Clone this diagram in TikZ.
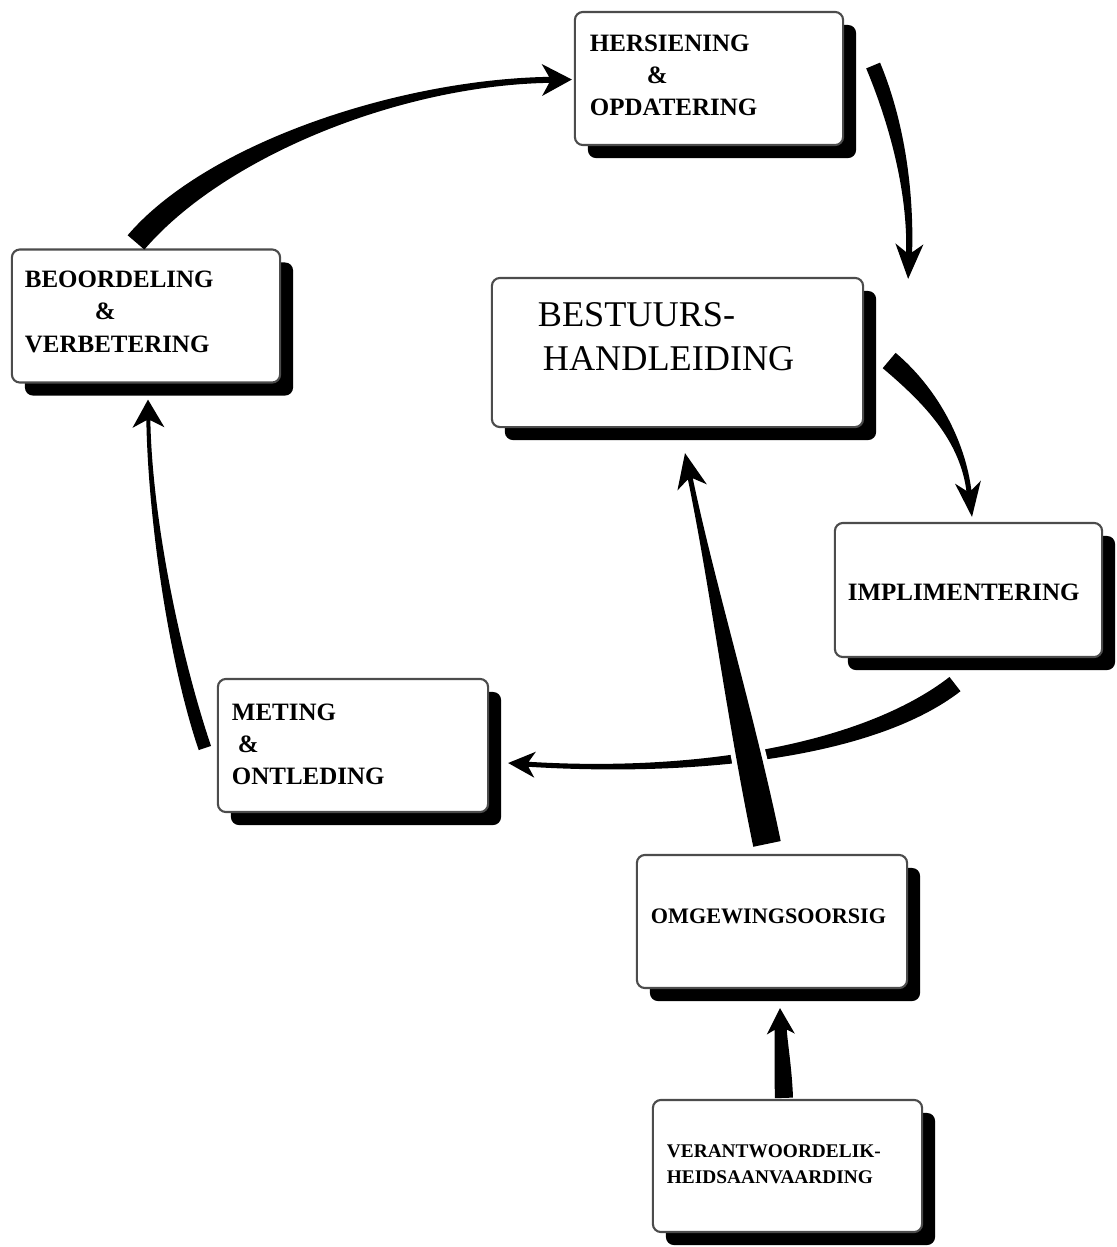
\documentclass[tikz,border=0pt]{standalone}
\usepackage{fontspec}
\setmainfont{Liberation Serif}
\usetikzlibrary{calc, shadows}
\tikzstyle{box}=[rectangle, rounded corners=0.08cm, draw=black!70, line width=0.6pt, fill=white, drop shadow={shadow xshift=0.13cm, shadow yshift=-0.13cm, fill=black, opacity=1}, align=left, inner sep=0, text height=0.2cm, minimum width=2.68cm, minimum height=1.33cm]
\tikzstyle{lbl}=[font=\fontsize{7.1}{9.1}\selectfont\bfseries]
\tikzstyle{halo}=[preaction={draw=white, line width=0.1cm}]
% tapered arrow: [style] start, control 1, control 2, tip, half width at start, half width at end, head length, head half width
\newcommand{\taperarrow}[9][]{%
  \coordinate (tb) at ($(#5)!#8!(#4)$);
  \coordinate (tn) at ($(tb)!0.3!(#5)$);
  \fill[#1] ($(#2)!#6!90:(#3)$) .. controls ($(#3)!#6!-90:(#2)$) and ($(#4)!#7!90:(tn)$) .. ($(tn)!#7!-90:(#4)$)
     -- ($(tn)!#7!90:(#4)$) .. controls ($(#4)!#7!-90:(tn)$) and ($(#3)!#6!90:(#2)$) .. ($(#2)!#6!-90:(#3)$) -- cycle
     (#5) -- ($(tb)!#9!-90:(#5)$) -- (tn) -- ($(tb)!#9!90:(#5)$) -- cycle;
}

\begin{document}
\begin{tikzpicture}[x=0.01cm, y=-0.01cm]
\useasboundingbox (0,0) rectangle (1117,1247);

\node[box, lbl, text width=2.38cm, text depth=0.73cm] (hers) at (709,78.5) {HERSIENING\\\hspace*{0.57cm}\&\\OPDATERING};
\node[box, lbl, text width=2.42cm, text depth=0.76cm] (beo) at (146,316) {BEOORDELING\\\hspace*{0.7cm}\&\\VERBETERING};
\node[box, font=\fontsize{10.3}{12.4}\selectfont, minimum width=3.71cm, minimum height=1.49cm, text width=2.79cm, text height=0.28cm, text depth=0.79cm] (best) at (677.5,352.5) {BESTUURS-\\\hspace*{0.05cm}HANDLEIDING};
\node[box, lbl, minimum width=2.67cm, minimum height=1.34cm, text width=2.41cm, text depth=0cm] (impl) at (968.5,590) {IMPLIMENTERING};
\node[box, lbl, minimum width=2.70cm, text width=2.42cm, text depth=0.71cm] (met) at (353,745.5) {METING\\\hspace*{0.06cm}\&\\ONTLEDING};
\node[box, font=\fontsize{6.3}{8}\selectfont\bfseries, minimum width=2.70cm, text width=2.42cm, text depth=0.17cm] (omg) at (772,921.5) {OMGEWINGSOORSIG};
\node[box, font=\fontsize{5.5}{7.4}\selectfont\bfseries, minimum width=2.69cm, minimum height=1.32cm, text width=2.41cm, text height=0.16cm, text depth=0.34cm] (ver) at (787.5,1166) {VERANTWOORDELIK-\\HEIDSAANVAARDING};

% ends of the arrows
\coordinate (a1s) at ($(beo.north)+(-10,-6)$);
\coordinate (a1t) at ($(hers.west)+(-2,1)$);
\coordinate (a2s) at ($(hers.east)+(29,-13)$);
\coordinate (a2t) at ($(best.north east)+(44,2)$);
\coordinate (a3s) at ($(best.east)+(25,8)$);
\coordinate (a3t) at ($(impl.north)+(3.5,-5)$);
\coordinate (a4s) at ($(impl.south)+(-13.5,26)$);
\coordinate (a4t) at ($(met.east)+(19,17.5)$);
\coordinate (a5s) at ($(met.west)+(-12,2.5)$);
\coordinate (a5t) at ($(beo.south)+(2,16)$);
\coordinate (a6s) at ($(omg.north)+(-5,-10)$);
\coordinate (a6t) at ($(best.south)+(7.5,25)$);
\coordinate (a7s) at ($(ver.north)+(-3.5,-1)$);
\coordinate (a7t) at ($(omg.south)+(8,19)$);

\taperarrow{a1s}{215,150}{400,82}{a1t}{0.11cm}{0.03cm}{0.3cm}{0.16cm}
\taperarrow{a2s}{900,130}{911,200}{a2t}{0.075cm}{0.03cm}{0.35cm}{0.14cm}
\taperarrow{a3s}{930,395}{963,440}{a3t}{0.1cm}{0.025cm}{0.35cm}{0.13cm}
\taperarrow{a4s}{870,750}{700,775}{a4t}{0.09cm}{0.025cm}{0.27cm}{0.13cm}
\taperarrow{a5s}{175,660}{150,520}{a5t}{0.065cm}{0.02cm}{0.28cm}{0.16cm}
\taperarrow[halo]{a6s}{740,714}{712,583}{a6t}{0.14cm}{0.025cm}{0.35cm}{0.15cm}
\taperarrow{a7s}{783,1068}{781,1040}{a7t}{0.09cm}{0.06cm}{0.26cm}{0.14cm}
\end{tikzpicture}
\end{document}
